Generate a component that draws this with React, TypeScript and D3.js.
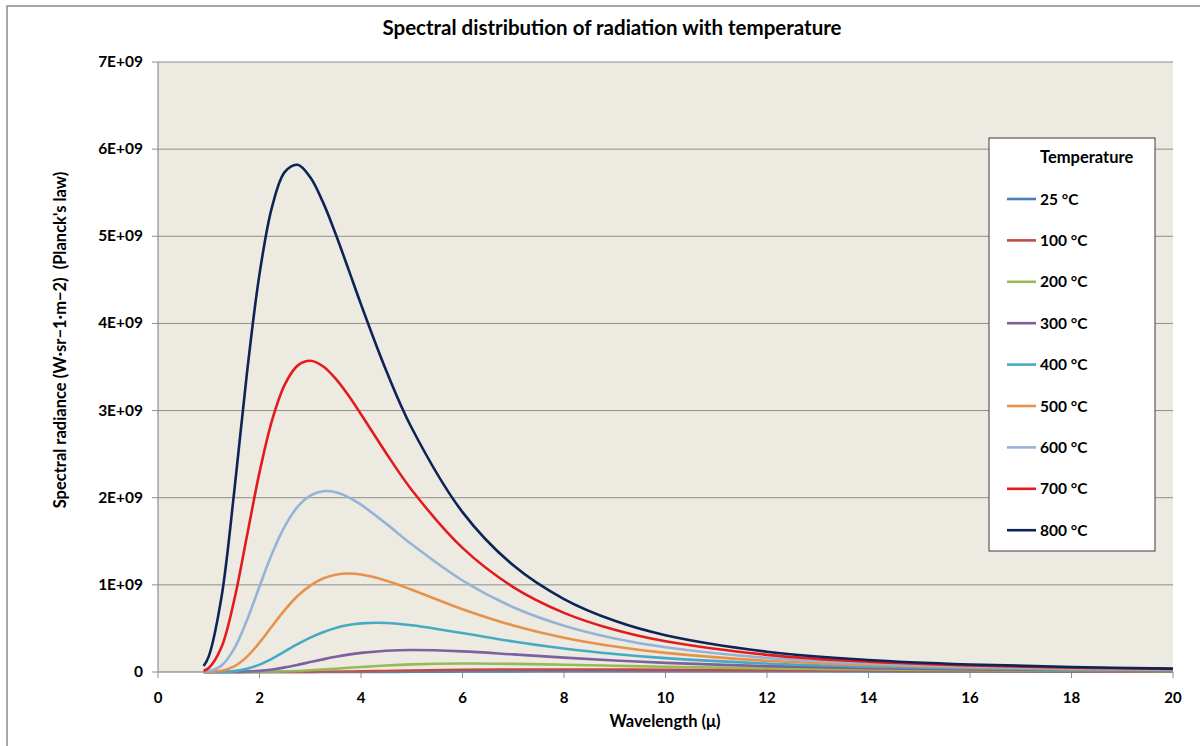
import React from "react";
import * as d3 from "d3";

const wavelengths = [0.9, 1.0, 1.25, 1.5, 1.75, 2.0, 2.25, 2.5, 2.75, 3.0, 3.25, 3.5, 3.75, 4.0, 4.5, 5, 6, 7, 8, 9, 10, 12, 14, 16, 18, 20];

// spectral radiance, in units of 1E+09
const t25 = [0, 0, 0, 0, 0, 0, 0, 0, 0, 0.0001, 0.0001, 0.0002, 0.0004, 0.0007, 0.0014, 0.0024, 0.0049, 0.0072, 0.0087, 0.0095, 0.0096, 0.0087, 0.0073, 0.0058, 0.0046, 0.0037];
const t100 = [0, 0, 0, 0, 0, 0, 0.0001, 0.0002, 0.0006, 0.0013, 0.0023, 0.0037, 0.0055, 0.0075, 0.0122, 0.017, 0.0248, 0.0288, 0.0295, 0.0281, 0.0257, 0.02, 0.015, 0.0112, 0.0084, 0.0063];
const t200 = [0, 0, 0, 0, 0.0002, 0.0009, 0.0028, 0.0063, 0.0119, 0.0194, 0.0283, 0.0381, 0.0482, 0.058, 0.0749, 0.0871, 0.0969, 0.0931, 0.083, 0.0711, 0.0597, 0.0412, 0.0285, 0.02, 0.0143, 0.0104];
const t300 = [0, 0, 0.0001, 0.0008, 0.0043, 0.0131, 0.0294, 0.053, 0.082, 0.1136, 0.145, 0.174, 0.199, 0.219, 0.244, 0.253, 0.237, 0.202, 0.165, 0.132, 0.105, 0.0674, 0.0442, 0.0299, 0.0208, 0.0148];
const t400 = [0, 0.0001, 0.0015, 0.0101, 0.0359, 0.0848, 0.154, 0.236, 0.319, 0.394, 0.457, 0.506, 0.539, 0.558, 0.563, 0.537, 0.447, 0.351, 0.27, 0.207, 0.159, 0.0969, 0.0614, 0.0405, 0.0277, 0.0195];
const t500 = [0.0002, 0.001, 0.0133, 0.064, 0.174, 0.338, 0.528, 0.713, 0.872, 0.992, 1.073, 1.117, 1.13, 1.119, 1.048, 0.944, 0.721, 0.534, 0.393, 0.292, 0.219, 0.129, 0.0797, 0.0516, 0.0348, 0.0242];
const t600 = [0.0022, 0.0083, 0.0733, 0.265, 0.59, 0.982, 1.362, 1.674, 1.895, 2.024, 2.074, 2.063, 2.007, 1.92, 1.7, 1.465, 1.05, 0.743, 0.531, 0.385, 0.284, 0.162, 0.0986, 0.0631, 0.0421, 0.0291];
const t700 = [0.0148, 0.0451, 0.284, 0.821, 1.553, 2.291, 2.894, 3.301, 3.516, 3.571, 3.509, 3.366, 3.175, 2.958, 2.508, 2.089, 1.424, 0.975, 0.679, 0.484, 0.352, 0.197, 0.118, 0.0747, 0.0495, 0.034];
const t800 = [0.068, 0.179, 0.856, 2.058, 3.415, 4.566, 5.344, 5.739, 5.82, 5.677, 5.392, 5.027, 4.626, 4.219, 3.454, 2.8, 1.835, 1.224, 0.837, 0.587, 0.422, 0.233, 0.138, 0.0866, 0.057, 0.039];

const seriesNames = ["25 °C", "100 °C", "200 °C", "300 °C", "400 °C", "500 °C", "600 °C", "700 °C", "800 °C"];
const seriesValues = [t25, t100, t200, t300, t400, t500, t600, t700, t800];
const seriesColors = ["#4A7EBB", "#BE4B48", "#98B954", "#7D60A0", "#46AAC5", "#E8914A", "#95B3D7", "#E31B1E", "#0E2356"];

const xTicks = [0, 2, 4, 6, 8, 10, 12, 14, 16, 18, 20];
const yTicks = [0, 1, 2, 3, 4, 5, 6, 7];
const yTickLabels = ["0", "1E+09", "2E+09", "3E+09", "4E+09", "5E+09", "6E+09", "7E+09"];

const W = 1200, H = 746;
const plot = { left: 158, right: 1173, top: 62, bottom: 672 };
const FONT = "Lato, 'Open Sans', sans-serif";

export default function App() {
  const x = d3.scaleLinear().domain([0, 20]).range([plot.left, plot.right]);
  const y = d3.scaleLinear().domain([0, 7]).range([plot.bottom, plot.top]);
  const line = d3
    .line<[number, number]>()
    .x((d) => x(d[0]))
    .y((d) => y(Math.max(0, d[1])))
    .curve(d3.curveCatmullRom.alpha(0.5));

  const legend = { x: 989, y: 138, w: 166, h: 413 };

  return (
    <svg width={W} height={H} style={{ position: "absolute", left: 0, top: 0, background: "#fff" }} fontFamily={FONT}>
      <rect x={7} y={6} width={W + 10} height={H + 10} fill="#fff" stroke="#8c8c8c" strokeWidth={1.5} />
      <text x={612} y={35} textAnchor="middle" fontSize={20.5} fontWeight="bold" fill="#000">
        Spectral distribution of radiation with temperature
      </text>
      <rect x={plot.left} y={plot.top} width={plot.right - plot.left} height={plot.bottom - plot.top} fill="#EDEBE1" />
      {yTicks.map((t) => (
        <line key={"g" + t} x1={plot.left} x2={plot.right} y1={y(t)} y2={y(t)} stroke="#8f8f8a" strokeWidth={1} />
      ))}
      <line x1={plot.left} x2={plot.left} y1={plot.top} y2={plot.bottom} stroke="#8f8f8f" strokeWidth={1.2} />
      {yTicks.map((t, i) => (
        <g key={"y" + t}>
          <line x1={plot.left - 6} x2={plot.left} y1={y(t)} y2={y(t)} stroke="#8f8f8f" />
          <text x={143} y={y(t) + 5} textAnchor="end" fontSize={15.5} fontWeight="bold" fill="#000">
            {yTickLabels[i]}
          </text>
        </g>
      ))}
      {xTicks.map((t) => (
        <g key={"x" + t}>
          <line x1={x(t)} x2={x(t)} y1={plot.bottom} y2={plot.bottom + 6} stroke="#8f8f8f" />
          <text x={x(t)} y={plot.bottom + 31} textAnchor="middle" fontSize={15} fontWeight="bold" fill="#000">
            {t}
          </text>
        </g>
      ))}
      {seriesValues.map((vals, i) => (
        <path
          key={seriesNames[i]}
          d={line(wavelengths.map((w, j) => [w, vals[j]] as [number, number])) || ""}
          fill="none"
          stroke={seriesColors[i]}
          strokeWidth={2.6}
          strokeLinejoin="round"
        />
      ))}
      <line x1={plot.left} x2={plot.right} y1={plot.bottom} y2={plot.bottom} stroke="#8f8f8f" strokeWidth={1} opacity={0.6} />
      <text x={665} y={727} textAnchor="middle" fontSize={16.5} fontWeight="bold" fill="#000">
        Wavelength (μ)
      </text>
      <text
        transform={`translate(66, 340) rotate(-90)`}
        textAnchor="middle"
        fontSize={16.5}
        fontWeight="bold"
        fill="#000"
        style={{ whiteSpace: "pre" }}
      >
        {"Spectral radiance (W·sr−1·m−2)  (Planck's law)"}
      </text>
      <rect x={legend.x} y={legend.y} width={legend.w} height={legend.h} fill="#fff" stroke="#3c3c3c" strokeWidth={1} />
      <text x={1040} y={163} fontSize={16.5} fontWeight="bold" fill="#000">
        Temperature
      </text>
      {seriesNames.map((n, i) => {
        const cy = 199 + i * 41.4;
        return (
          <g key={"l" + n}>
            <line x1={1007} x2={1036} y1={cy} y2={cy} stroke={seriesColors[i]} strokeWidth={2.6} />
            <text x={1040} y={cy + 5.5} fontSize={15.5} fontWeight="bold" fill="#000">
              {n}
            </text>
          </g>
        );
      })}
    </svg>
  );
}
